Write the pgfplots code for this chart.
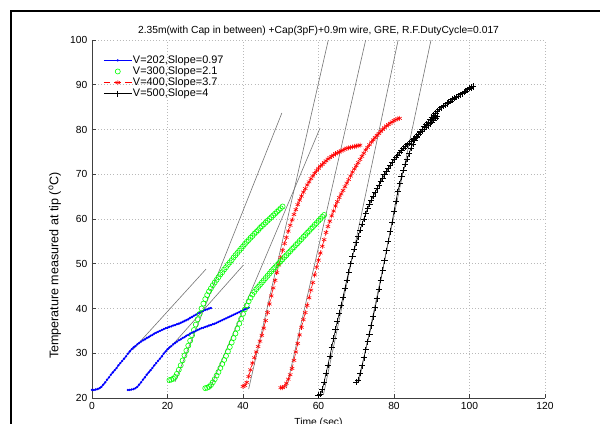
\documentclass[border=0pt]{standalone}
\usepackage{pgfplots}
\pgfplotsset{compat=1.18}
\usepackage{fontspec}
\setmainfont{Liberation Sans}
\newcommand{\fs}{\fontsize{7.7}{9}\selectfont}
\definecolor{tang}{gray}{0.45}
\begin{document}
\begin{tikzpicture}
\begin{axis}[
 scale only axis, width=339.75pt, height=268.5pt,
 xmin=0, xmax=120, ymin=20, ymax=100,
 xtick={0,20,...,120}, ytick={20,30,...,100},
 axis x line*=bottom, axis y line*=left,
 axis line style={-, black!75, line width=0.5pt},
 tick align=inside, major tick length=3pt,
 tick style={black!75, line width=0.5pt},
 grid=major, grid style={gray!55, dash pattern=on 0.5pt off 1.8pt, line width=0.4pt},
 tick label style={font=\fs}, /pgf/number format/assume math mode=true,
 title={2.35m(with Cap in between) +Cap(3pF)+0.9m wire, GRE, R.F.DutyCycle=0.017},
 title style={font=\fs, yshift=-6pt},
 xlabel={Time (sec)},
 ylabel={Temperature measured at tip (\textsuperscript{o}C)},
 xlabel style={font=\fs, yshift=1pt},
 ylabel style={font=\fontsize{9.4}{11}\selectfont, at={(ticklabel cs:0.37)}},
 legend style={draw=none, fill=none, font=\fontsize{8.2}{9.5}\selectfont, at={(0.0245,0.96)}, anchor=north west,
   inner sep=0pt, row sep=-0.3pt, nodes={inner sep=0.6pt}},
 legend cell align=left,
 legend image code/.code={\draw[mark repeat=2,mark phase=2,#1] plot coordinates {(0pt,0pt) (10.5pt,0pt) (21pt,0pt)};},
]
\addplot[blue, line width=0.6pt, mark=*, mark size=0.55pt] coordinates {
(0,21.8)(0.5,21.8)(1,21.9)(1.5,22.0)(2,22.2)(2.5,22.5)(3,23.0)(3.5,23.5)(4,24.1)(4.5,24.6)(5,25.2)(5.5,25.7)(6,26.2)(6.5,26.7)(7,27.3)(7.5,27.8)(8,28.3)(8.5,28.8)(9,29.3)(9.5,29.9)(10,30.4)(10.5,30.9)(11,31.3)(11.5,31.6)(12,32.0)(12.5,32.3)(13,32.6)(13.5,32.9)(14,33.1)(14.5,33.4)(15,33.6)(15.5,33.9)(16,34.1)(16.5,34.4)(17,34.6)(17.5,34.8)(18,35.0)(18.5,35.2)(19,35.4)(19.5,35.6)(20,35.7)(20.5,35.9)(21,36.0)(21.5,36.2)(22,36.3)(22.5,36.5)(23,36.6)(23.5,36.8)(24,37.0)(24.5,37.2)(25,37.4)(25.5,37.6)(26,37.9)(26.5,38.1)(27,38.4)(27.5,38.6)(28,38.9)(28.5,39.1)(29,39.3)(29.5,39.5)(30,39.7)(30.5,39.8)(31,40.0)(31.5,40.1)};
\addlegendentry{V=202,Slope=0.97}
\addplot[only marks, green, mark=o, mark size=1.9pt, mark options={line width=0.45pt}] coordinates {
(20.5,24.0)(21,24.1)(21.5,24.3)(22,24.7)(22.5,25.4)(23,26.3)(23.5,27.3)(24,28.4)(24.5,29.5)(25,30.6)(25.5,31.7)(26,32.8)(26.5,34.0)(27,35.2)(27.5,36.4)(28,37.6)(28.5,38.8)(29,40.0)(29.5,41.1)(30,42.1)(30.5,43.0)(31,43.8)(31.5,44.5)(32,45.2)(32.5,45.8)(33,46.4)(33.5,47.0)(34,47.6)(34.5,48.1)(35,48.7)(35.5,49.2)(36,49.8)(36.5,50.3)(37,50.8)(37.5,51.4)(38,51.9)(38.5,52.4)(39,52.9)(39.5,53.4)(40,53.9)(40.5,54.4)(41,54.9)(41.5,55.3)(42,55.8)(42.5,56.2)(43,56.7)(43.5,57.1)(44,57.5)(44.5,58.0)(45,58.4)(45.5,58.8)(46,59.2)(46.5,59.6)(47,60.0)(47.5,60.4)(48,60.8)(48.5,61.2)(49,61.6)(49.5,62.0)(50,62.4)(50.5,62.8)};
\addlegendentry{V=300,Slope=2.1}
\addplot[red, line width=0.45pt, dash pattern=on 5pt off 3pt, mark=asterisk, mark size=1.9pt, mark options={solid, line width=0.4pt}] coordinates {
(40,22.6)(40.5,22.8)(41,23.5)(41.5,24.8)(42,26.3)(42.5,27.8)(43,29.0)(43.5,30.3)(44,31.5)(44.5,32.7)(45,34.0)(45.5,35.6)(46,37.3)(46.5,39.1)(47,41.0)(47.5,42.8)(48,44.6)(48.5,46.3)(49,48.0)(49.5,49.7)(50,51.4)(50.5,53.0)(51,54.5)(51.5,55.9)(52,57.3)(52.5,58.6)(53,59.8)(53.5,61.0)(54,62.1)(54.5,63.2)(55,64.2)(55.5,65.1)(56,66.0)(56.5,66.8)(57,67.6)(57.5,68.3)(58,69.0)(58.5,69.6)(59,70.2)(59.5,70.8)(60,71.3)(60.5,71.8)(61,72.2)(61.5,72.6)(62,73.0)(62.5,73.4)(63,73.7)(63.5,74.0)(64,74.3)(64.5,74.6)(65,74.8)(65.5,75.0)(66,75.2)(66.5,75.4)(67,75.6)(67.5,75.8)(68,75.9)(68.5,76.0)(69,76.1)(69.5,76.2)(70,76.3)(70.5,76.4)(71,76.5)};
\addlegendentry{V=400,Slope=3.7}
\addplot[black, line width=0.45pt, mark=+, mark size=2.3pt, mark options={line width=0.45pt}] coordinates {
(60,20.7)(60.5,20.8)(61,21.9)(61.5,23.6)(62,25.5)(62.5,27.4)(63,29.3)(63.5,31.3)(64,33.3)(64.5,35.3)(65,37.2)(65.5,39.0)(66,40.8)(66.5,42.6)(67,44.5)(67.5,46.4)(68,48.2)(68.5,50.0)(69,51.7)(69.5,53.3)(70,54.7)(70.5,56.1)(71,57.5)(71.5,58.8)(72,60.0)(72.5,61.2)(73,62.3)(73.5,63.3)(74,64.2)(74.5,65.1)(75,65.9)(75.5,66.8)(76,67.6)(76.5,68.4)(77,69.2)(77.5,69.9)(78,70.6)(78.5,71.3)(79,72.0)(79.5,72.7)(80,73.3)(80.5,73.8)(81,74.3)(81.5,74.8)(82,75.3)(82.5,75.8)(83,76.2)(83.5,76.6)(84,77.0)(84.5,77.4)(85,77.8)(85.5,78.1)(86,78.5)(86.5,78.9)(87,79.3)(87.5,79.7)(88,80.1)(88.5,80.5)(89,80.9)(89.5,81.3)(90,81.7)(90.5,82.1)(91,82.5)(91.5,82.9)};
\addlegendentry{V=500,Slope=4}
% second runs
\addplot[blue, line width=0.6pt, mark=*, mark size=0.55pt, forget plot] coordinates {
(9.5,21.8)(10,21.8)(10.5,21.9)(11,22.0)(11.5,22.2)(12,22.5)(12.5,23.0)(13,23.5)(13.5,24.1)(14,24.6)(14.5,25.2)(15,25.7)(15.5,26.2)(16,26.7)(16.5,27.3)(17,27.8)(17.5,28.3)(18,28.8)(18.5,29.3)(19,29.9)(19.5,30.4)(20,30.9)(20.5,31.3)(21,31.6)(21.5,32.0)(22,32.3)(22.5,32.6)(23,32.9)(23.5,33.1)(24,33.4)(24.5,33.6)(25,33.9)(25.5,34.1)(26,34.4)(26.5,34.6)(27,34.8)(27.5,35.0)(28,35.2)(28.5,35.4)(29,35.6)(29.5,35.7)(30,35.9)(30.5,36.0)(31,36.2)(31.5,36.3)(32,36.5)(32.5,36.6)(33,36.8)(33.5,37.0)(34,37.2)(34.5,37.4)(35,37.6)(35.5,37.8)(36,38.0)(36.5,38.2)(37,38.4)(37.5,38.6)(38,38.8)(38.5,39.0)(39,39.2)(39.5,39.4)(40,39.6)(40.5,39.8)(41,40.0)(41.5,40.2)};
\addplot[only marks, green, mark=o, mark size=1.9pt, mark options={line width=0.45pt}, forget plot] coordinates {
(30,22.2)(30.5,22.3)(31,22.5)(31.5,22.9)(32,23.5)(32.5,24.2)(33,25.0)(33.5,25.8)(34,26.7)(34.5,27.6)(35,28.5)(35.5,29.4)(36,30.4)(36.5,31.4)(37,32.4)(37.5,33.4)(38,34.4)(38.5,35.5)(39,36.6)(39.5,37.7)(40,38.8)(40.5,39.8)(41,40.7)(41.5,41.6)(42,42.4)(42.5,43.1)(43,43.7)(43.5,44.3)(44,44.8)(44.5,45.3)(45,45.8)(45.5,46.3)(46,46.8)(46.5,47.3)(47,47.8)(47.5,48.3)(48,48.8)(48.5,49.2)(49,49.7)(49.5,50.1)(50,50.6)(50.5,51.0)(51,51.5)(51.5,51.9)(52,52.4)(52.5,52.8)(53,53.3)(53.5,53.7)(54,54.2)(54.5,54.6)(55,55.1)(55.5,55.5)(56,56.0)(56.5,56.4)(57,56.9)(57.5,57.3)(58,57.8)(58.5,58.2)(59,58.7)(59.5,59.1)(60,59.6)(60.5,60.0)(61,60.5)(61.5,60.9)};
\addplot[red, line width=0.45pt, dash pattern=on 5pt off 3pt, mark=asterisk, mark size=1.9pt, mark options={solid, line width=0.4pt}, forget plot] coordinates {
(50,22.3)(50.5,22.3)(51,22.6)(51.5,23.3)(52,24.2)(52.5,25.2)(53,26.6)(53.5,28.4)(54,30.3)(54.5,32.2)(55,34.1)(55.5,35.8)(56,37.5)(56.5,39.1)(57,40.7)(57.5,42.4)(58,44.1)(58.5,45.8)(59,47.5)(59.5,49.2)(60,50.8)(60.5,52.4)(61,53.9)(61.5,55.4)(62,57.0)(62.5,58.3)(63,59.5)(63.5,60.7)(64,61.8)(64.5,62.9)(65,63.9)(65.5,64.8)(66,65.6)(66.5,66.4)(67,67.2)(67.5,68.0)(68,68.8)(68.5,69.6)(69,70.5)(69.5,71.2)(70,71.9)(70.5,72.6)(71,73.3)(71.5,74.0)(72,74.7)(72.5,75.4)(73,76.0)(73.5,76.6)(74,77.2)(74.5,77.7)(75,78.2)(75.5,78.7)(76,79.1)(76.5,79.6)(77,80.0)(77.5,80.4)(78,80.8)(78.5,81.1)(79,81.4)(79.5,81.7)(80,82.0)(80.5,82.2)(81,82.4)(81.5,82.5)};
\addplot[black, line width=0.45pt, mark=+, mark size=2.3pt, mark options={line width=0.45pt}, forget plot] coordinates {
(70,23.6)(70.5,24.0)(71,25.5)(71.5,27.2)(72,29.0)(72.5,30.8)(73,32.6)(73.5,34.3)(74,36.2)(74.5,38.2)(75,40.2)(75.5,42.2)(76,44.3)(76.5,46.4)(77,48.5)(77.5,50.7)(78,52.9)(78.5,55.1)(79,57.2)(79.5,59.3)(80,61.7)(80.5,64.0)(81,66.1)(81.5,67.9)(82,69.5)(82.5,70.9)(83,72.2)(83.5,73.4)(84,74.6)(84.5,75.9)(85,76.8)(85.5,77.6)(86,78.3)(86.5,78.9)(87,79.5)(87.5,80.1)(88,80.7)(88.5,81.2)(89,81.7)(89.5,82.2)(90,82.7)(90.5,83.2)(91,83.7)(91.5,84.1)(92,84.5)(92.5,84.9)(93,85.2)(93.5,85.5)(94,85.8)(94.5,86.1)(95,86.4)(95.5,86.7)(96,87.0)(96.5,87.2)(97,87.5)(97.5,87.8)(98,88.0)(98.5,88.3)(99,88.6)(99.5,88.9)(100,89.2)(100.5,89.4)(101,89.6)};
% tangent lines
\addplot[tang, line width=0.45pt, forget plot] coordinates {(10.8,30.8)(30.2,48.8)};
\addplot[tang, line width=0.45pt, forget plot] coordinates {(20.2,30.8)(40.1,49.7)};
\addplot[tang, line width=0.45pt, forget plot] coordinates {(22,23.6)(50.3,83.7)};
\addplot[tang, line width=0.45pt, forget plot] coordinates {(31.3,22.2)(60.4,80.3)};
\addplot[tang, line width=0.45pt, forget plot] coordinates {(41.5,22)(62.6,100)};
\addplot[tang, line width=0.45pt, forget plot] coordinates {(51.5,22.2)(72.5,100)};
\addplot[tang, line width=0.45pt, forget plot] coordinates {(61.3,20.7)(81.1,100)};
\addplot[tang, line width=0.45pt, forget plot] coordinates {(70.7,23.6)(89.8,100)};
\end{axis}
\pgfresetboundingbox
\path[use as bounding box] (-69pt,-19.5pt) rectangle (381pt,298.5pt);
\draw[line width=1.5pt] (-60.75pt,-30pt) -- (-60.75pt,290.6pt) -- (400pt,290.6pt);
\end{tikzpicture}
\end{document}
